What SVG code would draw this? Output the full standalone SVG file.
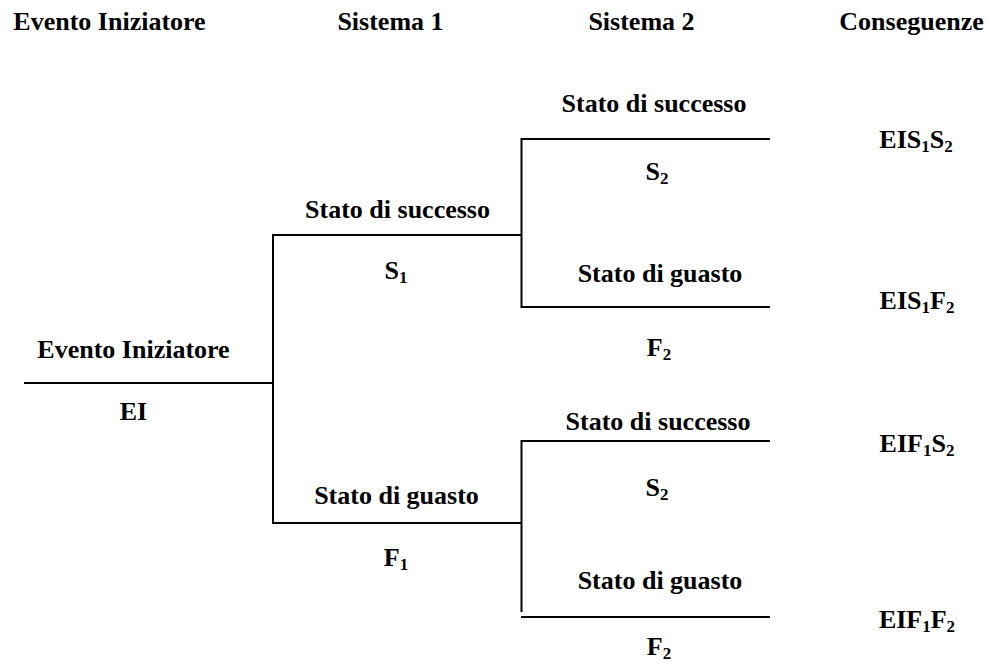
<svg xmlns="http://www.w3.org/2000/svg" width="988" height="664" viewBox="0 0 988 664">
  <style>
    text { font-family: "Liberation Serif", "Times New Roman", serif; font-weight: bold; font-size: 26px; fill: #000; text-anchor: middle; }
    .sub { font-size: 17px; }
    .branch { stroke: #000; stroke-width: 2; fill: none; stroke-linecap: butt; }
  </style>
  <rect width="988" height="664" fill="#fff"/>

  <!-- column headers -->
  <g id="headers">
    <text x="109.5" y="30">Evento Iniziatore</text>
    <text x="390.5" y="30">Sistema 1</text>
    <text x="641.5" y="30">Sistema 2</text>
    <text x="911.5" y="30">Conseguenze</text>
  </g>

  <!-- tree branches -->
  <g id="connectors">
    <line class="branch" x1="24" y1="383" x2="273" y2="383"/>
    <line class="branch" x1="273" y1="234" x2="273" y2="524"/>
    <line class="branch" x1="273" y1="235" x2="522" y2="235"/>
    <line class="branch" x1="273" y1="523" x2="522" y2="523"/>
    <line class="branch" x1="521.5" y1="138" x2="521.5" y2="308"/>
    <line class="branch" x1="521" y1="139" x2="770" y2="139"/>
    <line class="branch" x1="521" y1="307" x2="770" y2="307"/>
    <line class="branch" x1="521.5" y1="440" x2="521.5" y2="612"/>
    <line class="branch" x1="521" y1="441" x2="770" y2="441"/>
    <line class="branch" x1="521" y1="617" x2="770" y2="617"/>
  </g>

  <!-- initiating event -->
  <g id="node-ei">
    <text x="133.5" y="358">Evento Iniziatore</text>
    <text x="133.5" y="420">EI</text>
  </g>

  <!-- system 1 -->
  <g id="node-s1">
    <text x="397.5" y="218">Stato di successo</text>
    <text x="396" y="279">S<tspan class="sub" dy="4">1</tspan></text>
  </g>
  <g id="node-f1">
    <text x="396.5" y="504">Stato di guasto</text>
    <text x="396" y="566">F<tspan class="sub" dy="4">1</tspan></text>
  </g>

  <!-- system 2, after success of system 1 -->
  <g id="node-s1-s2">
    <text x="654" y="112">Stato di successo</text>
    <text x="657" y="180">S<tspan class="sub" dy="4">2</tspan></text>
  </g>
  <g id="node-s1-f2">
    <text x="660" y="282">Stato di guasto</text>
    <text x="659" y="356">F<tspan class="sub" dy="4">2</tspan></text>
  </g>

  <!-- system 2, after failure of system 1 -->
  <g id="node-f1-s2">
    <text x="658" y="430">Stato di successo</text>
    <text x="657" y="496">S<tspan class="sub" dy="4">2</tspan></text>
  </g>
  <g id="node-f1-f2">
    <text x="660" y="589">Stato di guasto</text>
    <text x="659" y="655">F<tspan class="sub" dy="4">2</tspan></text>
  </g>

  <!-- consequences -->
  <g id="node-consequences">
    <text x="916" y="148">EIS<tspan class="sub" dy="4">1</tspan><tspan dy="-4">S</tspan><tspan class="sub" dy="4">2</tspan></text>
    <text x="917" y="309">EIS<tspan class="sub" dy="4">1</tspan><tspan dy="-4">F</tspan><tspan class="sub" dy="4">2</tspan></text>
    <text x="917" y="452">EIF<tspan class="sub" dy="4">1</tspan><tspan dy="-4">S</tspan><tspan class="sub" dy="4">2</tspan></text>
    <text x="917" y="628">EIF<tspan class="sub" dy="4">1</tspan><tspan dy="-4">F</tspan><tspan class="sub" dy="4">2</tspan></text>
  </g>
</svg>
